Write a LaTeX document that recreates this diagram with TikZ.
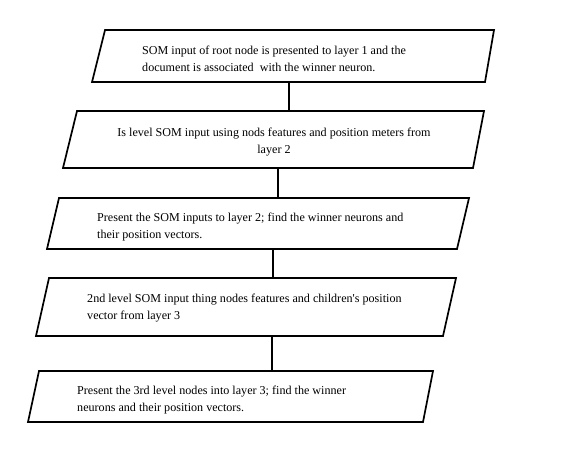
\documentclass[tikz,border=0pt]{standalone}
\usepackage{fontspec}
\setmainfont{Liberation Serif}
\newfontfamily\plainserif{Liberation Serif}
\begin{document}
\begin{tikzpicture}[x=1pt,y=-1pt,
  boxline/.style={line width=1.7pt, line join=miter},
  link/.style={line width=1.7pt},
  txt/.style={inner sep=0pt, anchor=base west, align=left, font=\plainserif\fontsize{12.1}{17}\selectfont}]
\useasboundingbox (0,0) rectangle (572,469);
% box 1
\draw[boxline] (105,30) -- (494,30) -- (485,82) -- (92,82) -- cycle;
\coordinate (b1bot) at (289,82);
\node[txt] (t1) at (142,71) {SOM input of root node is presented to layer 1 and the\\document is associated\ \ with the winner neuron.};
% box 2
\draw[boxline] (77,111) -- (484,111) -- (473,168) -- (63,168) -- cycle;
\coordinate (b2top) at (289,111);
\coordinate (b2bot) at (278,168);
\node[txt, anchor=base, align=center] (t2) at (274,153) {Is level SOM input using nods features and position meters from\\layer 2};
% box 3
\draw[boxline] (59,198) -- (469,198) -- (457,249) -- (47,249) -- cycle;
\coordinate (b3top) at (278,198);
\coordinate (b3bot) at (273,249);
\node[txt] (t3) at (97,238.5) {Present the SOM inputs to layer 2; find the winner neurons and\\their position vectors.};
% box 4
\draw[boxline] (49,278) -- (456,278) -- (443,336) -- (36,336) -- cycle;
\coordinate (b4top) at (273,278);
\coordinate (b4bot) at (272,336);
\node[txt] (t4) at (87,319) {2nd level SOM input thing nodes features and children's position\\vector from layer 3};
% box 5
\draw[boxline] (39,371) -- (433,371) -- (423,422) -- (28,422) -- cycle;
\coordinate (b5top) at (272,371);
\node[txt] (t5) at (77,411) {Present the 3rd level nodes into layer 3; find the winner\\neurons and their position vectors.};
% connectors
\draw[link] (b1bot) -- (b2top);
\draw[link] (b2bot) -- (b3top);
\draw[link] (b3bot) -- (b4top);
\draw[link] (b4bot) -- (b5top);
\end{tikzpicture}
\end{document}
